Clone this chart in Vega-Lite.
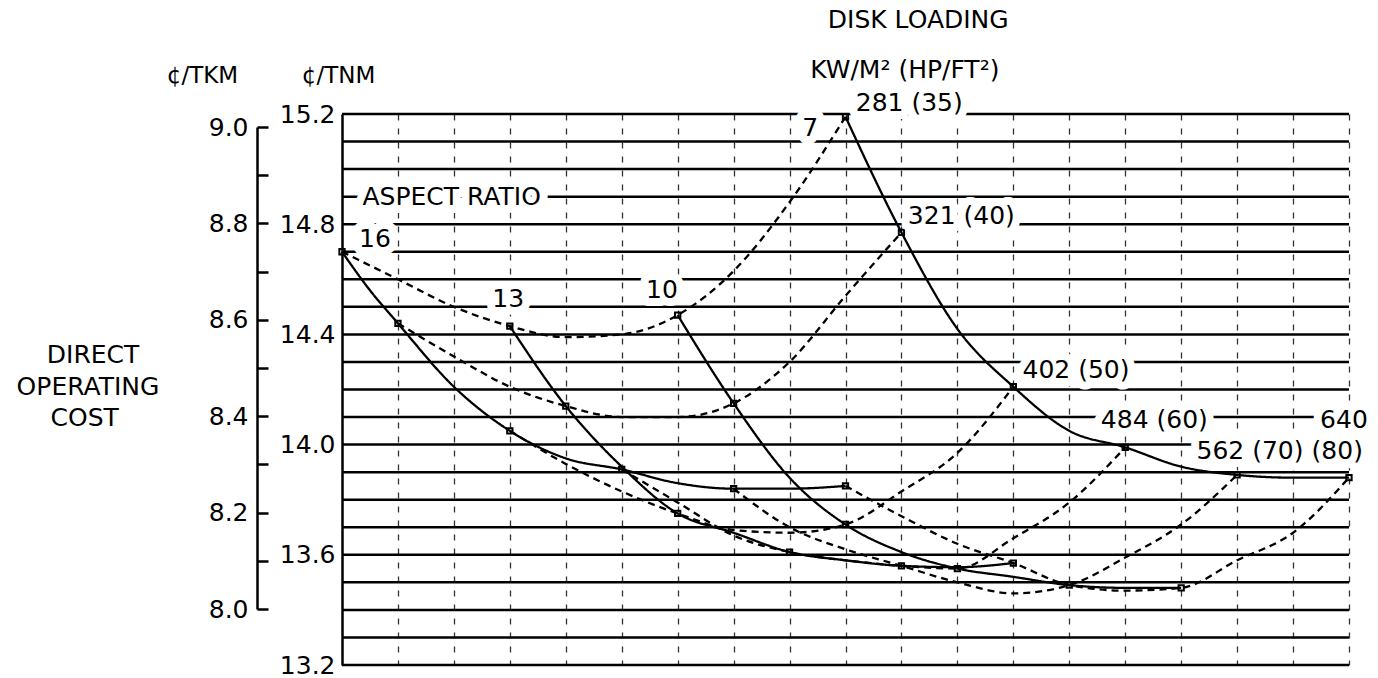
{
  "$schema": "https://vega.github.io/schema/vega-lite/v6.json",
  "width": 1007,
  "height": 551,
  "autosize": {"type": "none"},
  "padding": {"left": 342, "top": 114, "right": 29, "bottom": 13},
  "background": "white",
  "config": {
    "view": {"stroke": null},
    "font": "DejaVu Sans",
    "axis": {"labelFont": "DejaVu Sans", "titleFont": "DejaVu Sans", "labelColor": "black", "titleColor": "black", "titleFontWeight": "normal"}
  },
  "datasets": {
    "hgrid": [
      {"c": 13.2}, {"c": 13.3}, {"c": 13.4}, {"c": 13.5}, {"c": 13.6}, {"c": 13.7}, {"c": 13.8},
      {"c": 13.9}, {"c": 14.0}, {"c": 14.1}, {"c": 14.2}, {"c": 14.3}, {"c": 14.4}, {"c": 14.5},
      {"c": 14.6}, {"c": 14.7}, {"c": 14.8}, {"c": 14.9}, {"c": 15.0}, {"c": 15.1}, {"c": 15.2}
    ],
    "curves": [
      {"family": "AR", "curve": "AR 16", "x": 0, "c": 14.70},
      {"family": "AR", "curve": "AR 16", "x": 0.5, "c": 14.56},
      {"family": "AR", "curve": "AR 16", "x": 1, "c": 14.44},
      {"family": "AR", "curve": "AR 16", "x": 2, "c": 14.21},
      {"family": "AR", "curve": "AR 16", "x": 3, "c": 14.05},
      {"family": "AR", "curve": "AR 16", "x": 4, "c": 13.95},
      {"family": "AR", "curve": "AR 16", "x": 5, "c": 13.91},
      {"family": "AR", "curve": "AR 16", "x": 6, "c": 13.86},
      {"family": "AR", "curve": "AR 16", "x": 7, "c": 13.84},
      {"family": "AR", "curve": "AR 16", "x": 8, "c": 13.84},
      {"family": "AR", "curve": "AR 16", "x": 9, "c": 13.85},
      {"family": "AR", "curve": "AR 13", "x": 3, "c": 14.43},
      {"family": "AR", "curve": "AR 13", "x": 4, "c": 14.14},
      {"family": "AR", "curve": "AR 13", "x": 5, "c": 13.92},
      {"family": "AR", "curve": "AR 13", "x": 6, "c": 13.75},
      {"family": "AR", "curve": "AR 13", "x": 7, "c": 13.68},
      {"family": "AR", "curve": "AR 13", "x": 8, "c": 13.61},
      {"family": "AR", "curve": "AR 13", "x": 9, "c": 13.58},
      {"family": "AR", "curve": "AR 13", "x": 10, "c": 13.56},
      {"family": "AR", "curve": "AR 13", "x": 11, "c": 13.555},
      {"family": "AR", "curve": "AR 13", "x": 12, "c": 13.57},
      {"family": "AR", "curve": "AR 10", "x": 6, "c": 14.47},
      {"family": "AR", "curve": "AR 10", "x": 7, "c": 14.15},
      {"family": "AR", "curve": "AR 10", "x": 8, "c": 13.88},
      {"family": "AR", "curve": "AR 10", "x": 9, "c": 13.71},
      {"family": "AR", "curve": "AR 10", "x": 10, "c": 13.61},
      {"family": "AR", "curve": "AR 10", "x": 11, "c": 13.55},
      {"family": "AR", "curve": "AR 10", "x": 12, "c": 13.52},
      {"family": "AR", "curve": "AR 10", "x": 13, "c": 13.49},
      {"family": "AR", "curve": "AR 10", "x": 14, "c": 13.48},
      {"family": "AR", "curve": "AR 10", "x": 15, "c": 13.48},
      {"family": "AR", "curve": "AR 7", "x": 9, "c": 15.19},
      {"family": "AR", "curve": "AR 7", "x": 10, "c": 14.77},
      {"family": "AR", "curve": "AR 7", "x": 11, "c": 14.42},
      {"family": "AR", "curve": "AR 7", "x": 12, "c": 14.21},
      {"family": "AR", "curve": "AR 7", "x": 13, "c": 14.05},
      {"family": "AR", "curve": "AR 7", "x": 14, "c": 13.99},
      {"family": "AR", "curve": "AR 7", "x": 15, "c": 13.92},
      {"family": "AR", "curve": "AR 7", "x": 16, "c": 13.89},
      {"family": "AR", "curve": "AR 7", "x": 17, "c": 13.88},
      {"family": "AR", "curve": "AR 7", "x": 18, "c": 13.88},
      {"family": "DL", "curve": "DL 281", "x": 0, "c": 14.70},
      {"family": "DL", "curve": "DL 281", "x": 1, "c": 14.60},
      {"family": "DL", "curve": "DL 281", "x": 2, "c": 14.50},
      {"family": "DL", "curve": "DL 281", "x": 3, "c": 14.43},
      {"family": "DL", "curve": "DL 281", "x": 4, "c": 14.39},
      {"family": "DL", "curve": "DL 281", "x": 5, "c": 14.40},
      {"family": "DL", "curve": "DL 281", "x": 6, "c": 14.47},
      {"family": "DL", "curve": "DL 281", "x": 7, "c": 14.63},
      {"family": "DL", "curve": "DL 281", "x": 8, "c": 14.88},
      {"family": "DL", "curve": "DL 281", "x": 9, "c": 15.19},
      {"family": "DL", "curve": "DL 321", "x": 1, "c": 14.44},
      {"family": "DL", "curve": "DL 321", "x": 2, "c": 14.32},
      {"family": "DL", "curve": "DL 321", "x": 3, "c": 14.21},
      {"family": "DL", "curve": "DL 321", "x": 4, "c": 14.14},
      {"family": "DL", "curve": "DL 321", "x": 5, "c": 14.10},
      {"family": "DL", "curve": "DL 321", "x": 6, "c": 14.10},
      {"family": "DL", "curve": "DL 321", "x": 7, "c": 14.15},
      {"family": "DL", "curve": "DL 321", "x": 8, "c": 14.30},
      {"family": "DL", "curve": "DL 321", "x": 9, "c": 14.54},
      {"family": "DL", "curve": "DL 321", "x": 10, "c": 14.77},
      {"family": "DL", "curve": "DL 402", "x": 3, "c": 14.05},
      {"family": "DL", "curve": "DL 402", "x": 4, "c": 13.93},
      {"family": "DL", "curve": "DL 402", "x": 5, "c": 13.83},
      {"family": "DL", "curve": "DL 402", "x": 6, "c": 13.75},
      {"family": "DL", "curve": "DL 402", "x": 7, "c": 13.69},
      {"family": "DL", "curve": "DL 402", "x": 8, "c": 13.68},
      {"family": "DL", "curve": "DL 402", "x": 9, "c": 13.71},
      {"family": "DL", "curve": "DL 402", "x": 10, "c": 13.83},
      {"family": "DL", "curve": "DL 402", "x": 11, "c": 13.97},
      {"family": "DL", "curve": "DL 402", "x": 12, "c": 14.21},
      {"family": "DL", "curve": "DL 484", "x": 5, "c": 13.91},
      {"family": "DL", "curve": "DL 484", "x": 6, "c": 13.79},
      {"family": "DL", "curve": "DL 484", "x": 7, "c": 13.67},
      {"family": "DL", "curve": "DL 484", "x": 8, "c": 13.61},
      {"family": "DL", "curve": "DL 484", "x": 9, "c": 13.58},
      {"family": "DL", "curve": "DL 484", "x": 10, "c": 13.56},
      {"family": "DL", "curve": "DL 484", "x": 11, "c": 13.55},
      {"family": "DL", "curve": "DL 484", "x": 12, "c": 13.66},
      {"family": "DL", "curve": "DL 484", "x": 13, "c": 13.79},
      {"family": "DL", "curve": "DL 484", "x": 14, "c": 13.99},
      {"family": "DL", "curve": "DL 562", "x": 7, "c": 13.84},
      {"family": "DL", "curve": "DL 562", "x": 8, "c": 13.70},
      {"family": "DL", "curve": "DL 562", "x": 9, "c": 13.62},
      {"family": "DL", "curve": "DL 562", "x": 10, "c": 13.56},
      {"family": "DL", "curve": "DL 562", "x": 11, "c": 13.50},
      {"family": "DL", "curve": "DL 562", "x": 12, "c": 13.46},
      {"family": "DL", "curve": "DL 562", "x": 13, "c": 13.49},
      {"family": "DL", "curve": "DL 562", "x": 14, "c": 13.59},
      {"family": "DL", "curve": "DL 562", "x": 15, "c": 13.71},
      {"family": "DL", "curve": "DL 562", "x": 16, "c": 13.89},
      {"family": "DL", "curve": "DL 640", "x": 9, "c": 13.85},
      {"family": "DL", "curve": "DL 640", "x": 10, "c": 13.74},
      {"family": "DL", "curve": "DL 640", "x": 11, "c": 13.64},
      {"family": "DL", "curve": "DL 640", "x": 12, "c": 13.57},
      {"family": "DL", "curve": "DL 640", "x": 13, "c": 13.49},
      {"family": "DL", "curve": "DL 640", "x": 14, "c": 13.47},
      {"family": "DL", "curve": "DL 640", "x": 15, "c": 13.48},
      {"family": "DL", "curve": "DL 640", "x": 16, "c": 13.58},
      {"family": "DL", "curve": "DL 640", "x": 17, "c": 13.68},
      {"family": "DL", "curve": "DL 640", "x": 18, "c": 13.88}
    ],
    "carpet": [
      {"ar": 16, "dl": 281, "x": 0, "c": 14.70},
      {"ar": 16, "dl": 321, "x": 1, "c": 14.44},
      {"ar": 16, "dl": 402, "x": 3, "c": 14.05},
      {"ar": 16, "dl": 484, "x": 5, "c": 13.91},
      {"ar": 16, "dl": 562, "x": 7, "c": 13.84},
      {"ar": 16, "dl": 640, "x": 9, "c": 13.85},
      {"ar": 13, "dl": 281, "x": 3, "c": 14.43},
      {"ar": 13, "dl": 321, "x": 4, "c": 14.14},
      {"ar": 13, "dl": 402, "x": 6, "c": 13.75},
      {"ar": 13, "dl": 484, "x": 8, "c": 13.61},
      {"ar": 13, "dl": 562, "x": 10, "c": 13.56},
      {"ar": 13, "dl": 640, "x": 12, "c": 13.57},
      {"ar": 10, "dl": 281, "x": 6, "c": 14.47},
      {"ar": 10, "dl": 321, "x": 7, "c": 14.15},
      {"ar": 10, "dl": 402, "x": 9, "c": 13.71},
      {"ar": 10, "dl": 484, "x": 11, "c": 13.55},
      {"ar": 10, "dl": 562, "x": 13, "c": 13.49},
      {"ar": 10, "dl": 640, "x": 15, "c": 13.48},
      {"ar": 7, "dl": 281, "x": 9, "c": 15.19},
      {"ar": 7, "dl": 321, "x": 10, "c": 14.77},
      {"ar": 7, "dl": 402, "x": 12, "c": 14.21},
      {"ar": 7, "dl": 484, "x": 14, "c": 13.99},
      {"ar": 7, "dl": 562, "x": 16, "c": 13.89},
      {"ar": 7, "dl": 640, "x": 18, "c": 13.88}
    ],
    "labels": [
      {"label": "ASPECT RATIO", "x": 1.96, "c": 14.9},
      {"label": "16", "x": 0.59, "c": 14.745},
      {"label": "13", "x": 2.97, "c": 14.53},
      {"label": "10", "x": 5.72, "c": 14.56},
      {"label": "7", "x": 8.37, "c": 15.15},
      {"label": "281 (35)", "x": 10.14, "c": 15.24},
      {"label": "321 (40)", "x": 11.07, "c": 14.83},
      {"label": "402 (50)", "x": 13.12, "c": 14.27},
      {"label": "484 (60)", "x": 14.52, "c": 14.09},
      {"label": "640", "x": 17.91, "c": 14.09},
      {"label": "562 (70)", "x": 16.23, "c": 13.975},
      {"label": "(80)", "x": 17.79, "c": 13.975},
      {"label": "DISK LOADING", "x": 10.3, "c": 15.54},
      {"label": "KW/M² (HP/FT²)", "x": 10.06, "c": 15.36},
      {"label": "DIRECT", "x": -4.45, "c": 14.325},
      {"label": "OPERATING", "x": -4.54, "c": 14.21},
      {"label": "COST", "x": -4.6, "c": 14.097}
    ]
  },
  "layer": [
    {
      "layer": [
        {
          "data": {"name": "hgrid"},
          "mark": {"type": "rule", "color": "black", "strokeWidth": 2.5},
          "encoding": {
            "y": {"field": "c", "type": "quantitative"}
          }
        },
        {
          "data": {"name": "curves"},
          "mark": {"type": "line", "interpolate": "monotone", "color": "black", "strokeWidth": 2.3},
          "encoding": {
            "x": {
              "field": "x", "type": "quantitative",
              "scale": {"domain": [0, 18], "nice": false, "zero": false},
              "axis": {"orient": "bottom", "values": [1,2,3,4,5,6,7,8,9,10,11,12,13,14,15,16,17,18], "grid": true, "gridDash": [6, 8], "gridColor": "#333333", "gridWidth": 1.3, "labels": false, "ticks": false, "domain": false, "title": null}
            },
            "y": {
              "field": "c", "type": "quantitative",
              "scale": {"domain": [13.2, 15.2], "nice": false, "zero": false},
              "axis": {
                "orient": "left",
                "values": [13.2, 13.6, 14.0, 14.4, 14.8, 15.2],
                "format": ".1f",
                "grid": false,
                "ticks": false, "domain": true, "domainColor": "black", "domainWidth": 2.5,
                "labelFontSize": 25, "labelPadding": 7, "labelFlush": false, "labelOverlap": false,
                "title": "¢/TNM", "titleAngle": 0, "titleX": -4, "titleY": -39, "titleAlign": "center", "titleBaseline": "middle", "titleFontSize": 23
              }
            },
            "detail": {"field": "curve"},
            "strokeDash": {"field": "family", "type": "nominal", "scale": {"domain": ["AR", "DL"], "range": [[1, 0], [7, 5]]}, "legend": null}
          }
        },
        {
          "data": {"name": "carpet"},
          "mark": {"type": "point", "shape": "square", "size": 28, "filled": false, "color": "black", "strokeWidth": 2, "opacity": 1},
          "encoding": {
            "x": {"field": "x", "type": "quantitative"},
            "y": {"field": "c", "type": "quantitative"}
          }
        },
        {
          "data": {"name": "labels"},
          "mark": {"type": "text", "font": "DejaVu Sans", "fontSize": 25, "color": "white", "stroke": "white", "strokeWidth": 16, "strokeJoin": "round", "align": "center", "baseline": "middle"},
          "encoding": {
            "x": {"field": "x", "type": "quantitative"},
            "y": {"field": "c", "type": "quantitative"},
            "text": {"field": "label"}
          }
        },
        {
          "data": {"name": "labels"},
          "mark": {"type": "text", "font": "DejaVu Sans", "fontSize": 25, "color": "black", "align": "center", "baseline": "middle"},
          "encoding": {
            "x": {"field": "x", "type": "quantitative"},
            "y": {"field": "c", "type": "quantitative"},
            "text": {"field": "label"}
          }
        }
      ]
    },
    {
      "data": {"values": [{"tkm": 8.0}, {"tkm": 9.0}]},
      "mark": {"type": "point", "opacity": 0},
      "encoding": {
        "y": {
          "field": "tkm", "type": "quantitative",
          "scale": {"domain": [8.0, 9.0], "range": [495, 13], "nice": false, "zero": false},
          "axis": {
            "orient": "left", "offset": 85,
            "values": [8.0,8.1,8.2,8.3,8.4,8.5,8.6,8.7,8.8,8.9,9.0],
            "labelExpr": "round(datum.value * 10) % 2 === 0 ? format(datum.value, '.1f') : ''",
            "grid": false, "tickSize": -11, "tickColor": "black", "tickWidth": 2.5,
            "domain": true, "domainColor": "black", "domainWidth": 2.5,
            "labelFontSize": 25, "labelPadding": 20, "labelFlush": false, "labelOverlap": false,
            "title": "¢/TKM", "titleAngle": 0, "titleX": -55, "titleY": -39, "titleAlign": "center", "titleBaseline": "middle", "titleFontSize": 23
          }
        }
      }
    }
  ],
  "resolve": {"scale": {"y": "independent"}, "axis": {"y": "independent"}}
}
